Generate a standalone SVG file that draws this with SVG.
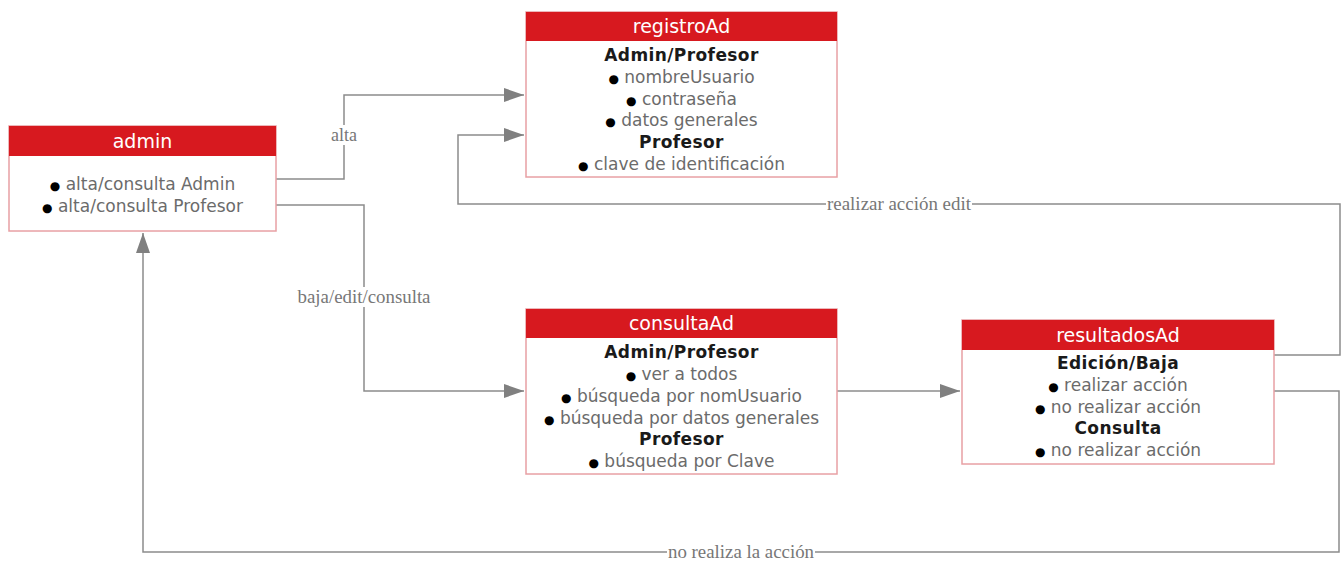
<svg xmlns="http://www.w3.org/2000/svg" width="1341" height="561" viewBox="0 0 1341 561">
<defs>
<marker id="arr" markerWidth="20" markerHeight="14" refX="20" refY="7" orient="auto" markerUnits="userSpaceOnUse">
<path d="M0,0 L20,7 L0,14 Z" fill="#808080"/>
</marker>
<style>
.box{fill:#fff;stroke:#e8a0a4;stroke-width:1.5}
.hdr{fill:#d7191f}
.ttl{font-family:"DejaVu Sans",Verdana,sans-serif;font-size:19px;fill:#fff;text-anchor:middle}
.t{font-family:"DejaVu Sans",Verdana,sans-serif;font-size:17px;fill:#6b6b6b;text-anchor:middle}
.b{font-family:"DejaVu Sans",Verdana,sans-serif;font-size:17px;font-weight:bold;fill:#1a1a1a;text-anchor:middle;letter-spacing:0.4px}
.dot{fill:#000;font-size:12px}
.ln{fill:none;stroke:#8c8c8c;stroke-width:1.5}
.lbl{font-family:"Liberation Serif","Times New Roman",serif;font-size:18px;fill:#777;text-anchor:middle}
.lbg{fill:#fff}
</style>
</defs>
<rect width="1341" height="561" fill="#fff"/>

<g id="connectors">
<path class="ln" d="M276,179 H344 V95 H524" marker-end="url(#arr)"/>
<path class="ln" d="M276,205 H364 V391 H524" marker-end="url(#arr)"/>
<path class="ln" d="M837,391 H960" marker-end="url(#arr)"/>
<path class="ln" d="M1274,355 H1340 V204 H458 V135 H524" marker-end="url(#arr)"/>
<path class="ln" d="M1274,391 H1339 V552 H143 V233" marker-end="url(#arr)"/>
<rect class="lbg" x="328" y="125" width="32" height="20"/>
<text class="lbl" x="344" y="141">alta</text>
<rect class="lbg" x="296" y="287" width="136" height="20"/>
<text class="lbl" x="364" y="303" textLength="133" lengthAdjust="spacingAndGlyphs">baja/edit/consulta</text>
<rect class="lbg" x="826" y="194" width="146" height="20"/>
<text class="lbl" x="899" y="210" textLength="144" lengthAdjust="spacingAndGlyphs">realizar acción edit</text>
<rect class="lbg" x="667" y="542" width="148" height="20"/>
<text class="lbl" x="741" y="558" textLength="146" lengthAdjust="spacingAndGlyphs">no realiza la acción</text>
</g>

<g id="admin">
<rect class="box" x="9" y="126" width="267" height="105"/>
<rect class="hdr" x="9" y="126" width="267" height="30"/>
<text class="ttl" x="142.5" y="148">admin</text>
<text class="t" x="142.5" y="190"><tspan class="dot">●</tspan> alta/consulta Admin</text>
<text class="t" x="142.5" y="212"><tspan class="dot">●</tspan> alta/consulta Profesor</text>
</g>

<g id="registroAd">
<rect class="box" x="526" y="12" width="311" height="165"/>
<rect class="hdr" x="526" y="12" width="311" height="29"/>
<text class="ttl" x="681.5" y="33">registroAd</text>
<text class="b" x="681.5" y="61">Admin/Profesor</text>
<text class="t" x="681.5" y="83"><tspan class="dot">●</tspan> nombreUsuario</text>
<text class="t" x="681.5" y="105"><tspan class="dot">●</tspan> contraseña</text>
<text class="t" x="681.5" y="126"><tspan class="dot">●</tspan> datos generales</text>
<text class="b" x="681.5" y="148">Profesor</text>
<text class="t" x="681.5" y="170"><tspan class="dot">●</tspan> clave de identificación</text>
</g>

<g id="consultaAd">
<rect class="box" x="526" y="309" width="311" height="165"/>
<rect class="hdr" x="526" y="309" width="311" height="29"/>
<text class="ttl" x="681.5" y="330">consultaAd</text>
<text class="b" x="681.5" y="358">Admin/Profesor</text>
<text class="t" x="681.5" y="380"><tspan class="dot">●</tspan> ver a todos</text>
<text class="t" x="681.5" y="402"><tspan class="dot">●</tspan> búsqueda por nomUsuario</text>
<text class="t" x="681.5" y="424"><tspan class="dot">●</tspan> búsqueda por datos generales</text>
<text class="b" x="681.5" y="445">Profesor</text>
<text class="t" x="681.5" y="467"><tspan class="dot">●</tspan> búsqueda por Clave</text>
</g>

<g id="resultadosAd">
<rect class="box" x="962" y="320" width="312" height="144"/>
<rect class="hdr" x="962" y="320" width="312" height="30"/>
<text class="ttl" x="1118" y="342">resultadosAd</text>
<text class="b" x="1118" y="369">Edición/Baja</text>
<text class="t" x="1118" y="391"><tspan class="dot">●</tspan> realizar acción</text>
<text class="t" x="1118" y="413"><tspan class="dot">●</tspan> no realizar acción</text>
<text class="b" x="1118" y="434">Consulta</text>
<text class="t" x="1118" y="456"><tspan class="dot">●</tspan> no realizar acción</text>
</g>
</svg>
